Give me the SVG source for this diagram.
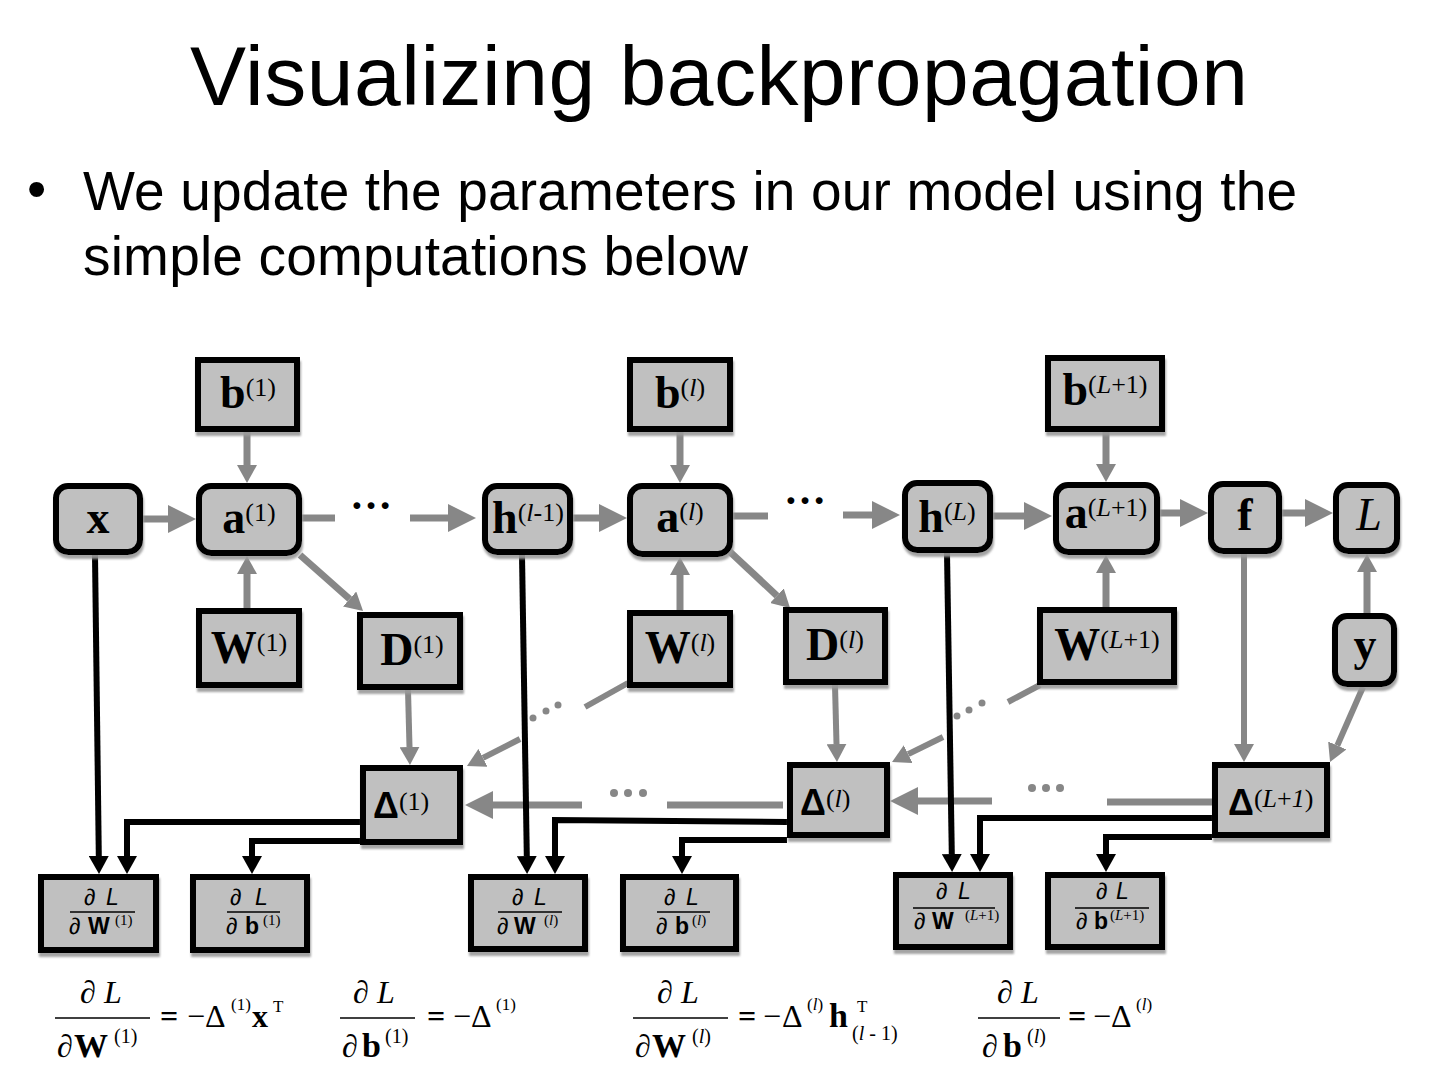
<svg xmlns="http://www.w3.org/2000/svg" width="1440" height="1080" viewBox="0 0 1440 1080">
<style>
.box{fill:#c0c0c0;stroke:#000;stroke-width:6;filter:url(#sh)}
.g{stroke:#878787;fill:none;stroke-width:7}
.gt{stroke:#878787;fill:none;stroke-width:6}
.k{stroke:#000;fill:none;stroke-width:6}
.gd{fill:#878787}
.lbl{font-family:"Liberation Serif",serif;font-weight:bold;font-size:46px;fill:#000}
.mid{text-anchor:middle}
.sup{font-weight:normal;font-size:26px}
.it{font-style:italic}
.dl{font-family:"Liberation Sans",sans-serif;font-weight:bold;font-size:36px}
.sn{font-family:"Liberation Sans",sans-serif;font-size:23px}
.ss{font-family:"Liberation Serif",serif;font-size:15px;font-weight:normal}
.fm{font-family:"Liberation Serif",serif;font-size:32px}
.fs{font-size:20px}
.fx{font-size:17px}
.bold{font-weight:bold}
.fl{stroke:#000;stroke-width:1.5}
</style>
<defs>
<filter id="sh" x="-10%" y="-10%" width="130%" height="140%"><feDropShadow dx="1" dy="4" stdDeviation="1" flood-color="#9a9a9a" flood-opacity="0.9"/></filter>
<marker id="gBig" markerUnits="userSpaceOnUse" markerWidth="28" markerHeight="28" refX="0" refY="14" orient="auto"><path d="M0,0 L28,14 L0,28 z" fill="#878787"/></marker>
<marker id="gSm" markerUnits="userSpaceOnUse" markerWidth="18" markerHeight="20" refX="0" refY="10" orient="auto"><path d="M0,0 L18,10 L0,20 z" fill="#878787"/></marker>
<marker id="kA" markerUnits="userSpaceOnUse" markerWidth="18" markerHeight="20" refX="0" refY="10" orient="auto"><path d="M0,0 L18,10 L0,20 z" fill="#000"/></marker>
</defs>
<rect width="1440" height="1080" fill="#fff"/>
<text x="190" y="105" font-family="Liberation Sans, sans-serif" font-size="84" textLength="1058" lengthAdjust="spacing">Visualizing backpropagation</text>
<text x="27" y="208" font-family="Liberation Sans, sans-serif" font-size="55">•</text>
<text x="83" y="210" font-family="Liberation Sans, sans-serif" font-size="55" textLength="1214" lengthAdjust="spacing">We update the parameters in our model using the</text>
<text x="83" y="275" font-family="Liberation Sans, sans-serif" font-size="55" textLength="665" lengthAdjust="spacing">simple computations below</text>

<g id="connectors">
<path class="g" d="M143,519 H168" marker-end="url(#gBig)"/>
<path class="g" d="M302,518 H335" stroke-width="8"/>
<path class="g" d="M410,518 H448" marker-end="url(#gBig)"/>
<path class="g" d="M572,518 H599" marker-end="url(#gBig)"/>
<path class="g" d="M733,516 H768" stroke-width="8"/>
<path class="g" d="M843,515 H872" marker-end="url(#gBig)"/>
<path class="g" d="M992,516 H1024" marker-end="url(#gBig)"/>
<path class="g" d="M1160,513 H1180" marker-end="url(#gBig)"/>
<path class="g" d="M1282,513 H1305" marker-end="url(#gBig)"/>
<path class="g" d="M247,432 V465" marker-end="url(#gSm)"/>
<path class="g" d="M247,608 V574" marker-end="url(#gSm)"/>
<path class="g" d="M300,555 L349.6,599" marker-end="url(#gSm)"/>
<path class="g" d="M680,432 V465" marker-end="url(#gSm)"/>
<path class="g" d="M680,610 V575" marker-end="url(#gSm)"/>
<path class="g" d="M728,550 L776.9,595.7" marker-end="url(#gSm)"/>
<path class="g" d="M1106,432 V464" marker-end="url(#gSm)"/>
<path class="g" d="M1106,607 V573" marker-end="url(#gSm)"/>
<path class="g" d="M1367,613 V572" marker-end="url(#gSm)"/>
<path class="gt" d="M408,690 L409.5,747" marker-end="url(#gSm)"/>
<path class="gt" d="M835,685 L836.5,744" marker-end="url(#gSm)"/>
<path class="gt" d="M1244,554 V744" marker-end="url(#gSm)"/>
<path class="gt" d="M1363,687 L1337.3,745.5" marker-end="url(#gSm)"/>
<path class="gt" d="M628,683 L585,707"/>
<circle class="gd" cx="558" cy="705" r="3.5"/><circle class="gd" cx="546" cy="711" r="3.5"/><circle class="gd" cx="533" cy="718" r="3.5"/>
<path class="gt" d="M520,739 L483,757.8" marker-end="url(#gSm)"/>
<path class="gt" d="M1040,685 L1008,702"/>
<circle class="gd" cx="982" cy="703" r="3.5"/><circle class="gd" cx="969" cy="710" r="3.5"/><circle class="gd" cx="957" cy="716" r="3.5"/>
<path class="gt" d="M943,737 L908.2,754.1" marker-end="url(#gSm)"/>
<path class="g" d="M783,805 H667" stroke-width="10"/>
<circle class="gd" cx="614" cy="793" r="4"/><circle class="gd" cx="628" cy="793" r="4"/><circle class="gd" cx="643" cy="793" r="4"/>
<path class="g" d="M582,805 H493" stroke-width="10" marker-end="url(#gBig)"/>
<path class="g" d="M1212,802 H1107" stroke-width="10"/>
<circle class="gd" cx="1032" cy="788" r="4"/><circle class="gd" cx="1046" cy="788" r="4"/><circle class="gd" cx="1060" cy="788" r="4"/>
<path class="g" d="M992,801 H918" stroke-width="10" marker-end="url(#gBig)"/>
<path class="k" d="M95,555 L98.8,856" marker-end="url(#kA)"/>
<path class="k" d="M522,555 L526.8,856" marker-end="url(#kA)"/>
<path class="k" d="M947,553 L951.8,854" marker-end="url(#kA)"/>
<path class="k" d="M360,822 H127 V856" marker-end="url(#kA)"/>
<path class="k" d="M360,841 H252 V856" marker-end="url(#kA)"/>
<path class="k" d="M787,822 L555,820 V856" marker-end="url(#kA)"/>
<path class="k" d="M787,840 H682 V856" marker-end="url(#kA)"/>
<path class="k" d="M1212,818 H980 V854" marker-end="url(#kA)"/>
<path class="k" d="M1212,837 H1106 V854" marker-end="url(#kA)"/>
</g>

<text x="350" y="509" font-family="Liberation Serif, serif" font-weight="bold" font-size="42">…</text>
<text x="784" y="504" font-family="Liberation Serif, serif" font-weight="bold" font-size="42">…</text>

<g id="node-x"><rect class="box" x="56" y="486" width="84" height="66" rx="12"/><text class="lbl mid" x="98" y="533">x</text></g>
<g id="node-a1"><rect class="box" x="199" y="486" width="100" height="67" rx="12"/><text class="lbl mid" x="249" y="533">a<tspan class="sup" dy="-12">(1)</tspan></text></g>
<g id="node-b1"><rect class="box" x="198" y="360" width="99" height="69"/><text class="lbl mid" x="248" y="408">b<tspan class="sup" dy="-12">(1)</tspan></text></g>
<g id="node-W1"><rect class="box" x="199" y="611" width="100" height="74"/><text class="lbl mid" x="249" y="663">W<tspan class="sup" dy="-12">(1)</tspan></text></g>
<g id="node-D1"><rect class="box" x="360" y="615" width="100" height="72"/><text class="lbl mid" x="412" y="665">D<tspan class="sup" dy="-12">(1)</tspan></text></g>
<g id="node-hl1"><rect class="box" x="485" y="486" width="85" height="66" rx="12"/><text class="lbl mid" x="528" y="533">h<tspan class="sup" dy="-12">(<tspan class="it">l</tspan>-1)</tspan></text></g>
<g id="node-al"><rect class="box" x="630" y="486" width="100" height="68" rx="12"/><text class="lbl mid" x="680" y="532">a<tspan class="sup" dy="-12">(<tspan class="it">l</tspan>)</tspan></text></g>
<g id="node-bl"><rect class="box" x="630" y="360" width="100" height="69"/><text class="lbl mid" x="680" y="408">b<tspan class="sup" dy="-12">(<tspan class="it">l</tspan>)</tspan></text></g>
<g id="node-Wl"><rect class="box" x="630" y="613" width="100" height="72"/><text class="lbl mid" x="680" y="663">W<tspan class="sup" dy="-12">(<tspan class="it">l</tspan>)</tspan></text></g>
<g id="node-Dl"><rect class="box" x="786" y="610" width="99" height="72"/><text class="lbl mid" x="835" y="660">D<tspan class="sup" dy="-12">(<tspan class="it">l</tspan>)</tspan></text></g>
<g id="node-hL"><rect class="box" x="905" y="483" width="85" height="67" rx="12"/><text class="lbl mid" x="947" y="532">h<tspan class="sup" dy="-12">(<tspan class="it">L</tspan>)</tspan></text></g>
<g id="node-bL1"><rect class="box" x="1048" y="358" width="114" height="71"/><text class="lbl mid" x="1105" y="405">b<tspan class="sup" dy="-12">(<tspan class="it">L</tspan>+1)</tspan></text></g>
<g id="node-aL1"><rect class="box" x="1056" y="485" width="101" height="67" rx="12"/><text class="lbl mid" x="1106" y="528">a<tspan class="sup" dy="-12">(<tspan class="it">L</tspan>+1)</tspan></text></g>
<g id="node-f"><rect class="box" x="1211" y="484" width="68" height="67" rx="12"/><text class="lbl mid" x="1245" y="530">f</text></g>
<g id="node-L"><rect class="box" x="1336" y="485" width="61" height="66" rx="12"/><text class="lbl mid it" x="1369" y="530" style="font-weight:normal">L</text></g>
<g id="node-WL1"><rect class="box" x="1040" y="610" width="134" height="72"/><text class="lbl mid" x="1107" y="660">W<tspan class="sup" dy="-12">(<tspan class="it">L</tspan>+1)</tspan></text></g>
<g id="node-y"><rect class="box" x="1335" y="616" width="59" height="68" rx="12"/><text class="lbl mid" x="1365" y="660">y</text></g>
<g id="node-Delta1"><rect class="box" x="363" y="768" width="97" height="74"/><text class="lbl" x="373" y="818"><tspan class="dl">Δ</tspan><tspan class="sup" dy="-8">(1)</tspan></text></g>
<g id="node-Deltal"><rect class="box" x="790" y="765" width="97" height="70"/><text class="lbl" x="800" y="815"><tspan class="dl">Δ</tspan><tspan class="sup" dy="-8">(<tspan class="it">l</tspan>)</tspan></text></g>
<g id="node-DeltaL1"><rect class="box" x="1215" y="765" width="112" height="70"/><text class="lbl" x="1228" y="815"><tspan class="dl">Δ</tspan><tspan class="sup" dy="-8">(<tspan class="it">L</tspan>+<tspan class="it">1</tspan>)</tspan></text></g>

<g id="node-dW1"><rect class="box" x="41" y="877" width="115" height="73"/><text class="sn it" y="905"><tspan x="84">∂</tspan><tspan x="106">L</tspan></text><line class="fl" x1="70" y1="912" x2="135" y2="912"/><text class="sn" y="934"><tspan class="it" x="69">∂</tspan><tspan class="bold" x="88">W</tspan><tspan class="ss" x="115" dy="-9">(1)</tspan></text></g>
<g id="node-db1"><rect class="box" x="193" y="877" width="114" height="73"/><text class="sn it" y="905"><tspan x="230">∂</tspan><tspan x="255">L</tspan></text><line class="fl" x1="227" y1="912" x2="280" y2="912"/><text class="sn" y="934"><tspan class="it" x="226">∂</tspan><tspan class="bold" x="245">b</tspan><tspan class="ss" x="263" dy="-9">(1)</tspan></text></g>
<g id="node-dWl"><rect class="box" x="471" y="877" width="114" height="72"/><text class="sn it" y="905"><tspan x="512">∂</tspan><tspan x="534">L</tspan></text><line class="fl" x1="498" y1="912" x2="562" y2="912"/><text class="sn" y="934"><tspan class="it" x="497">∂</tspan><tspan class="bold" x="514">W</tspan><tspan class="ss" x="544" dy="-9">(<tspan class="it">l</tspan>)</tspan></text></g>
<g id="node-dbl"><rect class="box" x="623" y="877" width="113" height="72"/><text class="sn it" y="905"><tspan x="664">∂</tspan><tspan x="686">L</tspan></text><line class="fl" x1="657" y1="912" x2="710" y2="912"/><text class="sn" y="934"><tspan class="it" x="656">∂</tspan><tspan class="bold" x="675">b</tspan><tspan class="ss" x="692" dy="-9">(<tspan class="it">l</tspan>)</tspan></text></g>
<g id="node-dWL1"><rect class="box" x="896" y="875" width="114" height="72"/><text class="sn it" y="899"><tspan x="936">∂</tspan><tspan x="958">L</tspan></text><line class="fl" x1="913" y1="908" x2="995" y2="908"/><text class="sn" y="929"><tspan class="it" x="914">∂</tspan><tspan class="bold" x="932">W</tspan><tspan class="ss" x="965" dy="-9">(<tspan class="it">L</tspan>+1)</tspan></text></g>
<g id="node-dbL1"><rect class="box" x="1048" y="875" width="114" height="72"/><text class="sn it" y="899"><tspan x="1096">∂</tspan><tspan x="1116">L</tspan></text><line class="fl" x1="1075" y1="908" x2="1149" y2="908"/><text class="sn" y="929"><tspan class="it" x="1076">∂</tspan><tspan class="bold" x="1094">b</tspan><tspan class="ss" x="1110" dy="-9">(<tspan class="it">L</tspan>+1)</tspan></text></g>

<g id="formulas">
<text class="fm it" y="1003"><tspan x="80">∂</tspan><tspan x="104">L</tspan></text>
<line class="fl" x1="55" y1="1018" x2="150" y2="1018"/>
<text class="fm" y="1057"><tspan class="it" x="57">∂</tspan><tspan class="bold" x="74" font-size="34">W</tspan><tspan class="fs" x="114" dy="-14">(1)</tspan></text>
<text class="fm" y="1027"><tspan x="160" class="bold">=</tspan><tspan x="187">−</tspan><tspan x="205">Δ</tspan><tspan x="231" class="fx" dy="-17">(1)</tspan><tspan x="252" class="bold" dy="17">x</tspan><tspan x="273" class="fx" dy="-15">T</tspan></text>

<text class="fm it" y="1003"><tspan x="353">∂</tspan><tspan x="377">L</tspan></text>
<line class="fl" x1="340" y1="1018" x2="415" y2="1018"/>
<text class="fm" y="1057"><tspan class="it" x="342">∂</tspan><tspan class="bold" x="362" font-size="34">b</tspan><tspan class="fs" x="385" dy="-14">(1)</tspan></text>
<text class="fm" y="1027"><tspan x="427" class="bold">=</tspan><tspan x="453">−</tspan><tspan x="471">Δ</tspan><tspan x="496" class="fx" dy="-17">(1)</tspan></text>

<text class="fm it" y="1003"><tspan x="657">∂</tspan><tspan x="681">L</tspan></text>
<line class="fl" x1="633" y1="1018" x2="728" y2="1018"/>
<text class="fm" y="1057"><tspan class="it" x="635">∂</tspan><tspan class="bold" x="652" font-size="34">W</tspan><tspan class="fs" x="692" dy="-14">(<tspan class="it">l</tspan>)</tspan></text>
<text class="fm" y="1027"><tspan x="738" class="bold">=</tspan><tspan x="763">−</tspan><tspan x="782">Δ</tspan><tspan x="807" class="fx" dy="-17">(<tspan class="it">l</tspan>)</tspan><tspan x="829" class="bold" dy="17" font-size="34">h</tspan><tspan x="857" class="fx" dy="-15">T</tspan><tspan x="852" class="fs" dy="28">(<tspan class="it">l</tspan> - 1)</tspan></text>

<text class="fm it" y="1003"><tspan x="997">∂</tspan><tspan x="1021">L</tspan></text>
<line class="fl" x1="978" y1="1018" x2="1060" y2="1018"/>
<text class="fm" y="1057"><tspan class="it" x="982">∂</tspan><tspan class="bold" x="1003" font-size="34">b</tspan><tspan class="fs" x="1027" dy="-14">(<tspan class="it">l</tspan>)</tspan></text>
<text class="fm" y="1027"><tspan x="1068" class="bold">=</tspan><tspan x="1093">−</tspan><tspan x="1111">Δ</tspan><tspan x="1136" class="fx" dy="-17">(<tspan class="it">l</tspan>)</tspan></text>
</g>
</svg>
